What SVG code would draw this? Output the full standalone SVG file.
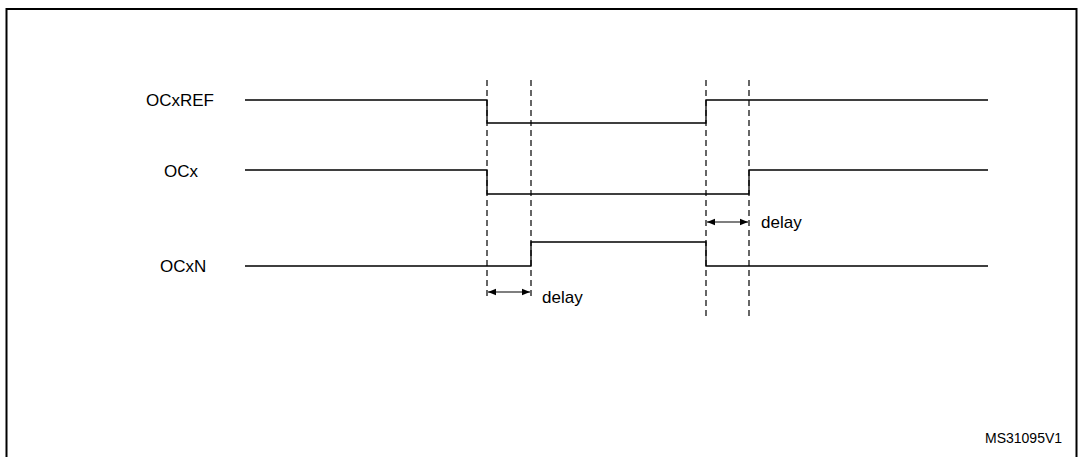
<svg xmlns="http://www.w3.org/2000/svg" width="1079" height="457" viewBox="0 0 1079 457">
<style>
.s{fill:none;stroke:#000;stroke-width:1.3}
.d{fill:none;stroke:#000;stroke-width:1.2;stroke-dasharray:6,4}
.a{fill:none;stroke:#000;stroke-width:1.2;marker-start:url(#ah);marker-end:url(#ah)}
text{font-family:"Liberation Sans",Arial,sans-serif;font-size:17px;fill:#000}
</style>
<defs><marker id="ah" viewBox="0 0 10 10" refX="10" refY="5" markerWidth="8" markerHeight="8" orient="auto-start-reverse" markerUnits="userSpaceOnUse"><path d="M0,1 L10,5 L0,9 z" fill="#000"/></marker></defs>
<rect x="6.5" y="9" width="1070" height="452" fill="#fff" stroke="#000" stroke-width="2"/>
<g id="guides">
<line class="d" x1="487" y1="80" x2="487" y2="300"/>
<line class="d" x1="531" y1="80" x2="531" y2="300"/>
<line class="d" x1="706" y1="80" x2="706" y2="316"/>
<line class="d" x1="749" y1="80" x2="749" y2="316"/>
</g>
<g id="OCxREF"><text x="146" y="106">OCxREF</text><polyline class="s" points="245,100 487,100 487,123 706,123 706,100 988,100"/></g>
<g id="OCx"><text x="164" y="177">OCx</text><polyline class="s" points="245,170 487,170 487,194 749,194 749,170 988,170"/></g>
<g id="OCxN"><text x="160" y="272">OCxN</text><polyline class="s" points="245,266 531,266 531,242 706,242 706,266 988,266"/></g>
<g id="connectors">
<line class="a" x1="488" y1="292" x2="530" y2="292"/>
<line class="a" x1="707" y1="222" x2="748" y2="222"/>
</g>
<text x="542" y="303">delay</text>
<text x="761" y="228">delay</text>
<text x="985" y="443" style="font-size:14px">MS31095V1</text>
</svg>
